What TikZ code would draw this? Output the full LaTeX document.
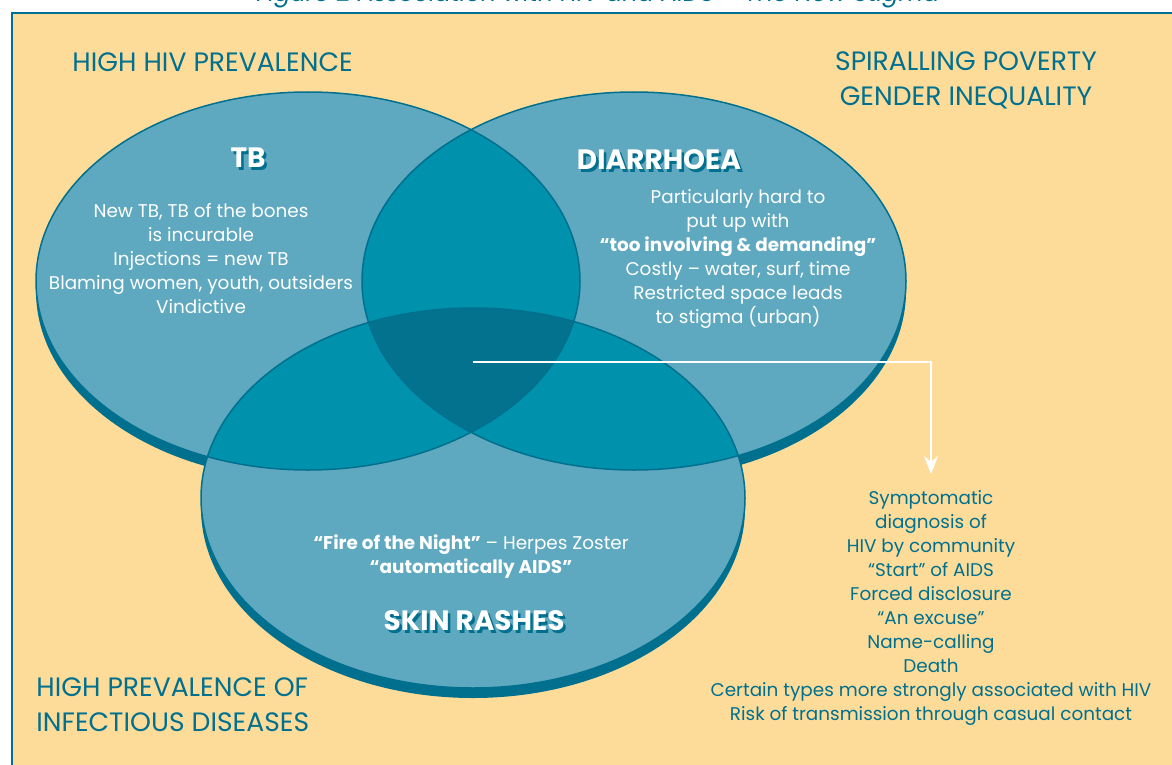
\documentclass[tikz,border=0pt]{standalone}
\usepackage{fontspec}
\setmainfont{Poppins}
\usetikzlibrary{arrows.meta,positioning}
\definecolor{sand}{RGB}{253,220,154}
\definecolor{ovallight}{RGB}{94,169,192}
\definecolor{ovalmid}{RGB}{0,145,173}
\definecolor{ovaldark}{RGB}{2,114,143}
\definecolor{inkteal}{RGB}{0,112,142}

\begin{document}
\begin{tikzpicture}[x=0.5pt, y=-0.5pt,
  rim/.style={draw=inkteal, line width=0.75pt},
  body/.style={text=white, align=center, inner sep=0pt, font=\fontsize{9.2}{12}\selectfont},
  head/.style={inner sep=0pt, font=\bfseries\fontsize{14}{16}\selectfont},
  zone/.style={text=inkteal, inner sep=0pt, font=\fontsize{13.3}{17.5}\selectfont},
  link/.style={draw=white, line width=1pt, -{Stealth[length=9pt,width=7pt]}}
]
\useasboundingbox (0,0) rectangle (1172,765);
\clip (0,0) rectangle (1172,765);

% panel
\fill[sand] (12,13) rectangle (1172,765);
\draw[inkteal, line width=0.6pt] (12,765) -- (12,13) -- (1172,13);
\node[text=inkteal, anchor=base, inner sep=0pt, font=\itshape\fontsize{12}{14}\selectfont]
  (title) at (598,2) {Figure 2 Association with HIV and AIDS -- The New Stigma};

% three ovals: shadow, fill, overlaps, outline
\foreach \cx/\cy/\ry in {308/281/189, 634/281/189, 473/498/190}
  \fill[inkteal] (\cx,\cy+10) ellipse [x radius=272, y radius=\ry];
\foreach \cx/\cy/\ry in {308/281/189, 634/281/189, 473/498/190}
  \fill[ovallight] (\cx,\cy) ellipse [x radius=272, y radius=\ry];
\foreach \ax/\ay/\ar/\bx/\by/\br in {308/281/189/634/281/189, 308/281/189/473/498/190, 634/281/189/473/498/190}{
  \begin{scope}
    \clip (\ax,\ay) ellipse [x radius=272, y radius=\ar];
    \fill[ovalmid] (\bx,\by) ellipse [x radius=272, y radius=\br];
  \end{scope}
}
\begin{scope}
  \clip (308,281) ellipse [x radius=272, y radius=189];
  \clip (634,281) ellipse [x radius=272, y radius=189];
  \fill[ovaldark] (473,498) ellipse [x radius=272, y radius=190];
\end{scope}
\foreach \cx/\cy/\ry in {308/281/189, 634/281/189, 473/498/190}
  \draw[rim] (\cx,\cy) ellipse [x radius=272, y radius=\ry];

% headings with drop shadow
\foreach \nm/\x/\y/\t in {tb/248/158/TB, diar/659/160/DIARRHOEA, skin/474/621/SKIN RASHES}{
  \node[head, text=inkteal] at (\x+2.5,\y+2.5) {\t};
  \node[head, text=white] (hd-\nm) at (\x,\y) {\t};
}

% oval texts
\node[body] (tb-txt) at (201,259) {New TB, TB of the bones\\is incurable\\Injections = new TB\\Blaming women, youth, outsiders\\Vindictive};
\node[body] (diar-txt) at (738,259) {Particularly hard to\\put up with\\\textbf{``too involving \& demanding''}\\Costly -- water, surf, time\\Restricted space leads\\to stigma (urban)};
\node[body] (skin-txt) at (471,557) {\textbf{``Fire of the Night''} -- Herpes Zoster\\\textbf{``automatically AIDS''}};

% context labels
\node[zone, anchor=west] (hiv) at (72,62) {HIGH HIV PREVALENCE};
\node[zone, align=center] (pov) at (966,80) {SPIRALLING POVERTY\\GENDER INEQUALITY};
\node[zone, anchor=west, align=left] (inf) at (36,705) {HIGH PREVALENCE OF\\INFECTIOUS DISEASES};

% what the overlap means
\node[body, text=inkteal] (signs) at (931,608) {Symptomatic\\diagnosis of\\HIV by community\\``Start'' of AIDS\\Forced disclosure\\``An excuse''\\Name-calling\\Death\\Certain types more strongly associated with HIV\\Risk of transmission through casual contact};
\coordinate (core) at (473,362);
\draw[link, shorten >=8pt] (core) -| (signs.north);
\end{tikzpicture}
\end{document}
